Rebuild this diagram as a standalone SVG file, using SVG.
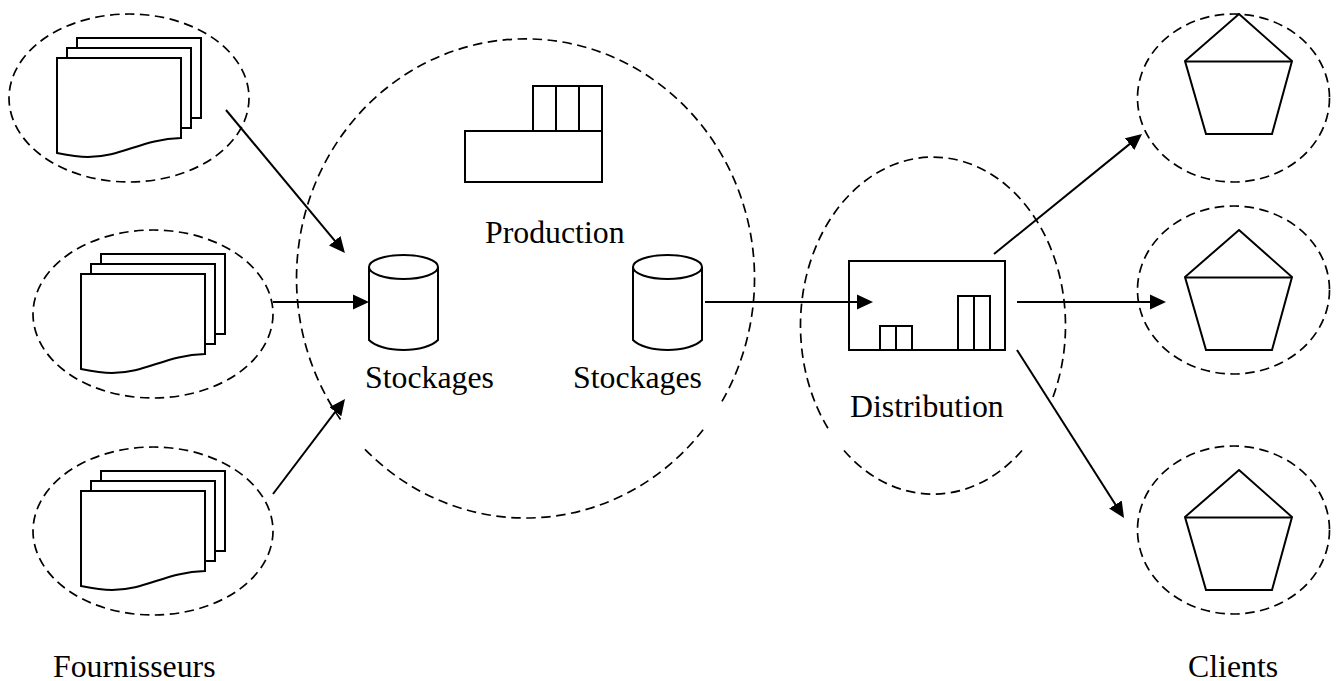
<svg xmlns="http://www.w3.org/2000/svg" width="1340" height="681" viewBox="0 0 1340 681">
<style>
.d{fill:none;stroke:#000;stroke-width:1.7;stroke-dasharray:9.500 5.500}
.s{fill:#fff;stroke:#000;stroke-width:2}
.n{fill:none;stroke:#000;stroke-width:2}
.c{fill:none;stroke:#000;stroke-width:2;marker-end:url(#a)}
text{font-family:"Liberation Serif","Times New Roman",serif;font-size:31.800px;fill:#000}
</style>
<defs>
<marker id="a" markerUnits="userSpaceOnUse" markerWidth="17" markerHeight="16" refX="13" refY="8" orient="auto">
<path d="M0,0.500 L16,8 L0,15.500 Z" fill="#000"/>
</marker>
<g id="doc">
<rect class="s" x="20" y="-20" width="124" height="80"/>
<rect class="s" x="10" y="-10" width="124" height="80"/>
<path class="s" d="M0,0 H124 V80 C85,81 65,99 31,99 C20,99 10,97 0,95 Z"/>
</g>
<g id="pent">
<path class="s" d="M0,0 L53,47 L33,120 H-33 L-54,47 Z"/>
<path class="n" d="M-54,47.500 H53"/>
</g>
</defs>
<g id="zone-production"><path class="d" d="M365,449.300 A229,239.500 0 0 0 704,428.600 M722,401.400 A229,239.500 0 1 0 343,423"/></g>
<g id="zone-distribution"><path class="d" d="M844,450.500 A132.500,168.500 0 0 0 1022,450.500 M1053,397 A132.500,168.500 0 1 0 829,430"/></g>
<g id="fournisseur-1">
<ellipse class="d" cx="129" cy="98" rx="120" ry="84"/>
<use href="#doc" x="57" y="58"/>
</g>
<g id="fournisseur-2">
<ellipse class="d" cx="153" cy="314" rx="120" ry="84"/>
<use href="#doc" x="81" y="274"/>
</g>
<g id="fournisseur-3">
<ellipse class="d" cx="153" cy="531" rx="120" ry="84"/>
<use href="#doc" x="81" y="491"/>
</g>
<g id="production">
<rect class="s" x="533" y="86" width="23" height="45"/>
<rect class="s" x="556" y="86" width="23" height="45"/>
<rect class="s" x="579" y="86" width="23" height="45"/>
<rect class="s" x="465" y="131" width="137" height="51"/>
<text x="485" y="243">Production</text>
</g>
<g id="stockage-1">
<path class="s" d="M369,267 V340 C375,346 388,350 403.500,350 C419,350 432,346 438,340 V267"/>
<ellipse class="s" cx="403.500" cy="267" rx="34.500" ry="12"/>
<text x="365" y="388">Stockages</text>
</g>
<g id="stockage-2">
<path class="s" d="M633,267 V340 C639,346 652,350 667.500,350 C683,350 696,346 702,340 V267"/>
<ellipse class="s" cx="667.500" cy="267" rx="34.500" ry="12"/>
<text x="573" y="388">Stockages</text>
</g>
<g id="distribution">
<rect class="s" x="849" y="261" width="156" height="89"/>
<rect class="n" x="880" y="326" width="16" height="24"/>
<rect class="n" x="896" y="326" width="16" height="24"/>
<rect class="n" x="958" y="296" width="16" height="54"/>
<rect class="n" x="974" y="296" width="16" height="54"/>
<text x="850" y="417">Distribution</text>
</g>
<g id="client-1">
<ellipse class="d" cx="1233.500" cy="98" rx="96" ry="84"/>
<use href="#pent" x="1239" y="14"/>
</g>
<g id="client-2">
<ellipse class="d" cx="1233.500" cy="290" rx="96" ry="84"/>
<use href="#pent" x="1239" y="230"/>
</g>
<g id="client-3">
<ellipse class="d" cx="1233.500" cy="530" rx="96" ry="84"/>
<use href="#pent" x="1239" y="470"/>
</g>
<g id="connectors">
<line class="c" x1="226" y1="110" x2="343" y2="250.700"/>
<line class="c" x1="273" y1="302" x2="366" y2="302"/>
<line class="c" x1="273" y1="494" x2="343.200" y2="401.400"/>
<line class="c" x1="705" y1="302" x2="870" y2="302"/>
<line class="c" x1="994" y1="254" x2="1139.700" y2="135.900"/>
<line class="c" x1="1017" y1="302" x2="1163" y2="302"/>
<line class="c" x1="1017" y1="350" x2="1122.400" y2="515.500"/>
</g>
<g id="labels">
<text x="53" y="677">Fournisseurs</text>
<text x="1188" y="677">Clients</text>
</g>
</svg>
